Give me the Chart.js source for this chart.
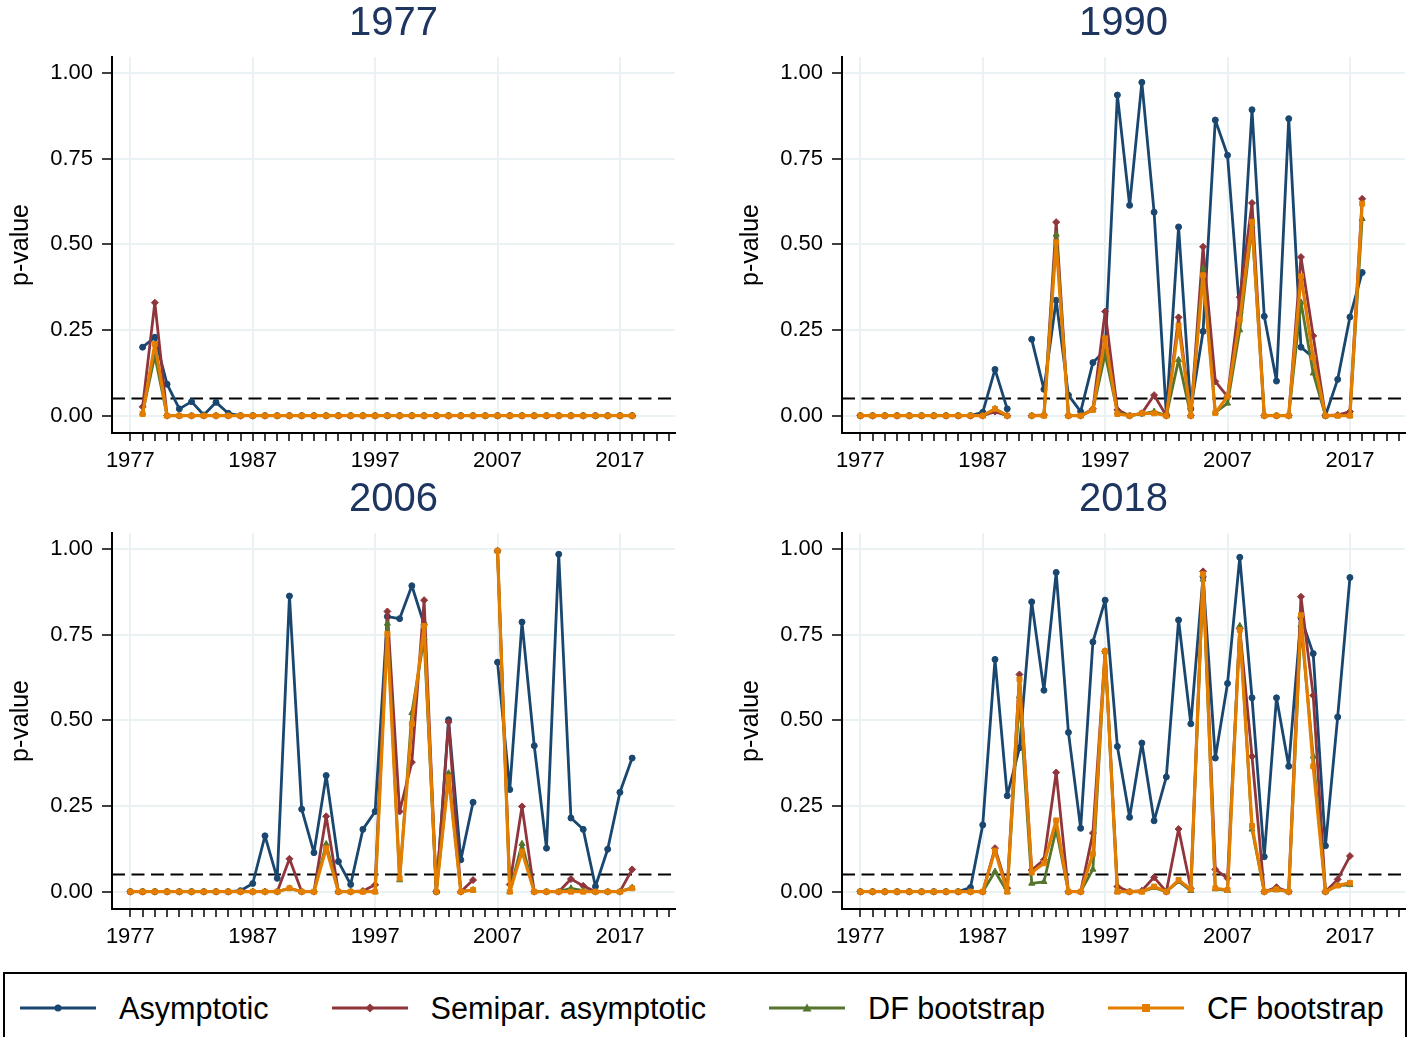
<!DOCTYPE html>
<html>
<head>
<meta charset="utf-8">
<script src="https://cdn.jsdelivr.net/npm/chart.js@4.4.1/dist/chart.umd.min.js"></script>
<style>
  body { margin: 0; width: 1410px; height: 1037px; overflow: hidden; background: #fff; font-family: "Liberation Sans", Arial, sans-serif; }
  .panel { position: absolute; width: 680px; height: 476px; }
  #legend { position: absolute; left: 3px; top: 972px; width: 1404px; height: 72px; box-sizing: border-box; border: 2px solid #000; display: flex; align-items: center; padding-left: 15px; gap: 63px; }
  #legend .item { display: flex; align-items: center; }
  #legend svg { margin-right: 23px; }
  #legend span { font-size: 30.6px; color: #000; white-space: nowrap; }
</style>
</head>
<body>
<div class="panel" style="left:0;top:0"><canvas id="p1977" width="680" height="476"></canvas></div>
<div class="panel" style="left:730px;top:0"><canvas id="p1990" width="680" height="476"></canvas></div>
<div class="panel" style="left:0;top:476px"><canvas id="p2006" width="680" height="476"></canvas></div>
<div class="panel" style="left:730px;top:476px"><canvas id="p2018" width="680" height="476"></canvas></div>
<div id="legend"></div>
<script>
const years = [1977, 1978, 1979, 1980, 1981, 1982, 1983, 1984, 1985, 1986,
  1987, 1988, 1989, 1990, 1991, 1992, 1993, 1994, 1995, 1996,
  1997, 1998, 1999, 2000, 2001, 2002, 2003, 2004, 2005, 2006,
  2007, 2008, 2009, 2010, 2011, 2012, 2013, 2014, 2015, 2016,
  2017, 2018];
const decadeLabels = [1977, 1987, 1997, 2007, 2017];
const yTicks = [0, 0.25, 0.5, 0.75, 1];
const cutoff = 0.05;

const seriesNames = ["Asymptotic", "Semipar. asymptotic", "DF bootstrap", "CF bootstrap"];
const seriesColors = ["#1a476f", "#90353b", "#55752f", "#e37e00"];
const seriesMarkers = ["circle", "rectRot", "triangle", "rect"];

// panel "1977"
const asy1977 = [null, 0.200, 0.229, 0.092, 0.020, 0.041, 0.002, 0.039, 0.007, 0,
  0, 0, 0, 0, 0, 0, 0, 0, 0, 0,
  0, 0, 0, 0, 0, 0, 0, 0, 0, 0,
  0, 0, 0, 0, 0, 0, 0, 0, 0, 0,
  0, 0];
const semi1977 = [null, 0.026, 0.330, 0, 0, 0, 0, 0, 0, 0,
  0, 0, 0, 0, 0, 0, 0, 0, 0, 0,
  0, 0, 0, 0, 0, 0, 0, 0, 0, 0,
  0, 0, 0, 0, 0, 0, 0, 0, 0, 0,
  0, 0];
const df1977 = [null, 0.008, 0.175, 0, 0, 0, 0, 0, 0, 0,
  0, 0, 0, 0, 0, 0, 0, 0, 0, 0,
  0, 0, 0, 0, 0, 0, 0, 0, 0, 0,
  0, 0, 0, 0, 0, 0, 0, 0, 0, 0,
  0, 0];
const cf1977 = [null, 0.005, 0.209, 0, 0, 0, 0, 0, 0, 0,
  0, 0, 0, 0, 0, 0, 0, 0, 0, 0,
  0, 0, 0, 0, 0, 0, 0, 0, 0, 0,
  0, 0, 0, 0, 0, 0, 0, 0, 0, 0,
  0, 0];

// panel "1990"
const asy1990 = [0, 0, 0, 0, 0, 0, 0, 0, 0, 0,
  0.010, 0.135, 0.020, null, 0.223, 0.077, 0.337, 0.060, 0.012, 0.155,
  0.190, 0.936, 0.614, 0.973, 0.594, 0.003, 0.551, 0.020, 0.246, 0.863,
  0.760, 0.300, 0.893, 0.290, 0.101, 0.867, 0.200, 0.170, 0.000, 0.106,
  0.288, 0.418];
const semi1990 = [0, 0, 0, 0, 0, 0, 0, 0, 0, 0,
  0, 0.012, 0, null, 0, 0.002, 0.565, 0, 0, 0.020,
  0.304, 0.017, 0, 0.007, 0.060, 0, 0.287, 0, 0.493, 0.100,
  0.056, 0.346, 0.621, 0, 0, 0, 0.463, 0.233, 0, 0.002,
  0.012, 0.633];
const df1990 = [0, 0, 0, 0, 0, 0, 0, 0, 0, 0,
  0, 0.020, 0, null, 0, 0, 0.529, 0, 0, 0.017,
  0.180, 0.010, 0, 0.005, 0.012, 0, 0.163, 0, 0.430, 0.010,
  0.036, 0.250, 0.553, 0, 0, 0, 0.331, 0.124, 0, 0,
  0, 0.575];
const cf1990 = [0, 0, 0, 0, 0, 0, 0, 0, 0, 0,
  0, 0.020, 0, null, 0, 0, 0.506, 0, 0, 0.017,
  0.226, 0.005, 0, 0.007, 0.007, 0, 0.263, 0, 0.410, 0.008,
  0.056, 0.280, 0.566, 0, 0, 0, 0.407, 0.170, 0, 0,
  0, 0.619];

// panel "2006"
const asy2006 = [0, 0, 0, 0, 0, 0, 0, 0, 0, 0.003,
  0.024, 0.163, 0.039, 0.863, 0.241, 0.114, 0.339, 0.088, 0.021, 0.182,
  0.234, 0.803, 0.797, 0.893, 0.780, 0.000, 0.502, 0.093, 0.261, null,
  0.670, 0.298, 0.787, 0.426, 0.127, 0.985, 0.215, 0.182, 0.015, 0.124,
  0.290, 0.390];
const semi2006 = [0, 0, 0, 0, 0, 0, 0, 0, 0, 0,
  0, 0, 0, 0.096, 0, 0, 0.220, 0, 0, 0.002,
  0.020, 0.818, 0.234, 0.378, 0.851, 0, 0.495, 0, 0.034, null,
  0.995, 0.021, 0.249, 0, 0, 0, 0.037, 0.017, 0, 0,
  0, 0.065];
const df2006 = [0, 0, 0, 0, 0, 0, 0, 0, 0, 0,
  0, 0, 0, 0.010, 0, 0, 0.139, 0, 0, 0,
  0, 0.783, 0.034, 0.522, 0.741, 0, 0.346, 0, 0.005, null,
  0.995, 0, 0.140, 0, 0, 0, 0.010, 0.003, 0, 0,
  0, 0.012];
const cf2006 = [0, 0, 0, 0, 0, 0, 0, 0, 0, 0,
  0, 0, 0, 0.010, 0, 0, 0.127, 0, 0, 0,
  0, 0.753, 0.039, 0.490, 0.776, 0, 0.334, 0, 0.005, null,
  0.995, 0, 0.117, 0, 0, 0, 0, 0, 0, 0,
  0, 0.010];

// panel "2018"
const asy2018 = [0, 0, 0, 0, 0, 0, 0, 0, 0, 0.012,
  0.195, 0.678, 0.280, 0.420, 0.846, 0.588, 0.932, 0.465, 0.185, 0.729,
  0.851, 0.424, 0.217, 0.434, 0.207, 0.335, 0.793, 0.490, 0.920, 0.390,
  0.608, 0.976, 0.566, 0.102, 0.566, 0.366, 0.800, 0.695, 0.134, 0.510,
  0.917, null];
const semi2018 = [0, 0, 0, 0, 0, 0, 0, 0, 0, 0,
  0, 0.127, 0.010, 0.634, 0.063, 0.093, 0.348, 0, 0, 0.171,
  0.702, 0.015, 0, 0.003, 0.042, 0, 0.183, 0.010, 0.935, 0.065,
  0.039, 0.768, 0.395, 0, 0.013, 0, 0.861, 0.573, 0, 0.036,
  0.104, null];
const df2018 = [0, 0, 0, 0, 0, 0, 0, 0, 0, 0,
  0, 0.059, 0, 0.571, 0.024, 0.029, 0.182, 0, 0, 0.065,
  0.700, 0, 0, 0, 0.012, 0, 0.030, 0.003, 0.912, 0.008,
  0.003, 0.776, 0.182, 0, 0.005, 0, 0.778, 0.395, 0, 0.018,
  0.020, null];
const cf2018 = [0, 0, 0, 0, 0, 0, 0, 0, 0, 0,
  0, 0.120, 0, 0.620, 0.056, 0.083, 0.208, 0, 0, 0.110,
  0.702, 0, 0, 0, 0.015, 0, 0.034, 0.007, 0.927, 0.010,
  0.005, 0.764, 0.192, 0, 0.007, 0, 0.807, 0.366, 0, 0.018,
  0.026, null];

const panels = [
  { id: "p1977", title: "1977", series: [asy1977, semi1977, df1977, cf1977] },
  { id: "p1990", title: "1990", series: [asy1990, semi1990, df1990, cf1990] },
  { id: "p2006", title: "2006", series: [asy2006, semi2006, df2006, cf2006] },
  { id: "p2018", title: "2018", series: [asy2018, semi2018, df2018, cf2018] }
];

const fontFamily = '"Liberation Sans", Arial, sans-serif';
const gridColor = "#eaf2f3";
const xMin = 1975.5;
const xMax = 2021.5;

// every year gets a small tick mark, decades get a label and a grid line
const yearTicks = [];
for (let v = 1977; v <= 2021; v++) yearTicks.push(v);

const cutoffLine = {
  id: "cutoffLine",
  beforeDatasetsDraw(chart) {
    const { ctx, chartArea, scales } = chart;
    const y = scales.y.getPixelForValue(cutoff);
    ctx.save();
    ctx.strokeStyle = "#000";
    ctx.lineWidth = 2;
    ctx.setLineDash([13, 6.5]);
    ctx.beginPath();
    ctx.moveTo(chartArea.left, y);
    ctx.lineTo(chartArea.right, y);
    ctx.stroke();
    ctx.restore();
  }
};

function makePanel(panel) {
  return new Chart(document.getElementById(panel.id), {
    type: "line",
    data: {
      labels: years,
      datasets: panel.series.map((values, i) => ({
        label: seriesNames[i],
        data: values,
        borderColor: seriesColors[i],
        backgroundColor: seriesColors[i],
        borderWidth: i === 3 ? 3.2 : 2.8,
        borderJoinStyle: "round",
        borderCapStyle: "round",
        pointStyle: seriesMarkers[i],
        pointRadius: i === 0 ? 3 : 3.5,
        pointBorderWidth: 1,
        tension: 0,
        order: 3 - i
      }))
    },
    options: {
      responsive: false,
      animation: false,
      layout: { padding: { left: 0, right: 4, top: 0, bottom: 0 } },
      plugins: {
        legend: { display: false },
        tooltip: { enabled: false },
        title: {
          display: true,
          text: panel.title,
          color: "#1e3560",
          fullSize: false,
          font: { family: fontFamily, size: 40, weight: "normal", lineHeight: 1 },
          padding: { top: 4, bottom: 13 }
        }
      },
      scales: {
        x: {
          type: "linear",
          min: xMin,
          max: xMax,
          afterBuildTicks: (s) => { s.ticks = yearTicks.map((v) => ({ value: v })); },
          afterFit: (s) => { s.height = 43; },
          ticks: {
            autoSkip: false,
            maxRotation: 0,
            minRotation: 0,
            padding: 7,
            color: "#000",
            font: { family: fontFamily, size: 22 },
            callback: (v) => (decadeLabels.includes(v) ? String(v) : "")
          },
          grid: {
            color: (c) => (c.tick && decadeLabels.includes(c.tick.value) ? gridColor : "rgba(0,0,0,0)"),
            lineWidth: 2,
            tickColor: "#000",
            tickLength: 8,
            tickWidth: 1.5
          },
          border: { color: "#000", width: 2 }
        },
        y: {
          min: -0.0505,
          max: 1.047,
          afterBuildTicks: (s) => { s.ticks = yTicks.map((v) => ({ value: v })); },
          afterFit: (s) => { s.width = 112; },
          ticks: {
            padding: 9,
            color: "#000",
            font: { family: fontFamily, size: 22 },
            callback: (v) => Number(v).toFixed(2)
          },
          grid: { color: gridColor, lineWidth: 2, tickColor: "#000", tickLength: 10, tickWidth: 1.5 },
          border: { color: "#000", width: 2 },
          title: {
            display: true,
            text: "p-value",
            color: "#000",
            font: { family: fontFamily, size: 25 },
            padding: { top: 6, bottom: 0 }
          }
        }
      }
    },
    plugins: [cutoffLine]
  });
}

panels.forEach(makePanel);

function markerSvg(shape, color) {
  if (shape === "circle") return `<circle cx="38" cy="7" r="3.5" fill="${color}"/>`;
  if (shape === "rectRot") return `<polygon points="38,2.5 42.5,7 38,11.5 33.5,7" fill="${color}"/>`;
  if (shape === "triangle") return `<polygon points="38,2.5 42.5,10.5 33.5,10.5" fill="${color}"/>`;
  return `<rect x="34" y="3" width="8" height="8" fill="${color}"/>`;
}

const legend = document.getElementById("legend");
seriesNames.forEach((name, i) => {
  const item = document.createElement("div");
  item.className = "item";
  item.innerHTML = `<svg width="76" height="14" viewBox="0 0 76 14"><line x1="0" y1="7" x2="76" y2="7" stroke="${seriesColors[i]}" stroke-width="3"/>${markerSvg(seriesMarkers[i], seriesColors[i])}</svg><span>${name}</span>`;
  legend.appendChild(item);
});
</script>
</body>
</html>
